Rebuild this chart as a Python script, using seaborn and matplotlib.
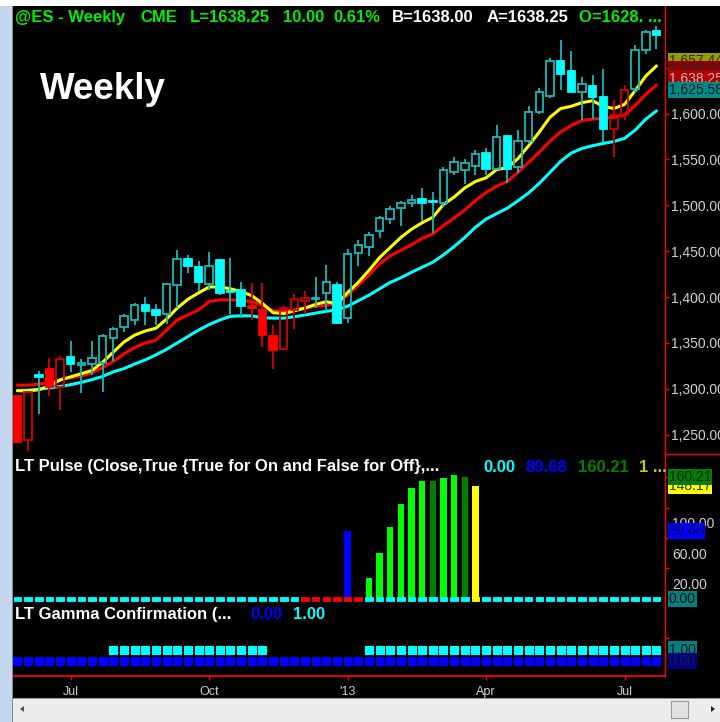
import numpy as np
import pandas as pd
import matplotlib
matplotlib.use("Agg")
import matplotlib.pyplot as plt
import seaborn as sns
from matplotlib.path import Path
from matplotlib.patches import Rectangle, Polygon
from matplotlib.lines import Line2D
from matplotlib.ticker import FuncFormatter

# weekly @ES bars, first bar = early Jun 2012
opens = [1292, 1244, 1315, 1322, 1302, 1335, 1325.5, 1327, 1328, 1355,
         1367, 1375, 1391, 1386, 1381, 1413, 1441, 1433, 1414, 1440,
         1407, 1408, 1390, 1386, 1358, 1343, 1386, 1396, 1398, 1404,
         1413, 1377, 1448.5, 1455, 1472, 1485, 1497, 1502, 1507, 1505,
         1503, 1536, 1538, 1543, 1557, 1540, 1576, 1542, 1570, 1602,
         1619, 1657, 1646, 1623, 1630, 1618, 1583, 1598, 1627, 1669, 1690]
highs = [1293, 1298, 1319, 1334, 1336, 1352, 1333, 1352, 1360, 1367,
         1382, 1393, 1400, 1392, 1415, 1451, 1446, 1439, 1449, 1441,
         1443, 1416, 1415, 1415, 1369, 1390, 1403, 1407, 1422, 1435,
         1416, 1452, 1462, 1471, 1488, 1499, 1505, 1511, 1519, 1515,
         1542, 1553, 1550, 1560, 1562, 1588, 1577, 1582, 1608, 1628,
         1661, 1680, 1668, 1640, 1642, 1649, 1615, 1631, 1675, 1691, 1696]
lows = [1241, 1232, 1272, 1292, 1277, 1318, 1295, 1315, 1297, 1330,
        1362, 1370, 1370, 1370, 1371, 1388, 1426, 1407, 1408, 1402,
        1382, 1377, 1375, 1346, 1322, 1342, 1365, 1382, 1388, 1385,
        1371, 1372, 1434, 1445, 1464, 1480, 1478, 1498, 1483, 1470,
        1498, 1533, 1523, 1533, 1533, 1539, 1524, 1535, 1567, 1600,
        1617, 1626, 1622, 1593, 1594, 1569, 1553, 1593, 1622, 1665, 1670]
closes = [1242, 1297, 1313, 1302, 1332, 1327, 1328, 1334, 1358, 1365,
          1379, 1391, 1385, 1380, 1414, 1441, 1434, 1416, 1434, 1404,
          1406, 1390, 1388, 1359, 1342, 1388, 1398, 1399, 1399, 1416,
          1372, 1447, 1457, 1468, 1486, 1496, 1502, 1506, 1503, 1504,
          1538, 1547, 1546, 1556, 1540, 1575, 1540, 1570, 1602, 1623,
          1657, 1643, 1623, 1632, 1618, 1583, 1598, 1626, 1669, 1689, 1686]
bar_color = list("rrcrr" + "c" * 17 + "r" * 6 + "c" * 28 + "rr" + "ccc")

ma_fast = [1298, 1297.6, 1299, 1303, 1309.6, 1313, 1316.5, 1320, 1329, 1340,
           1351, 1358.5, 1363, 1366, 1376, 1388, 1397.5, 1404.5, 1411, 1411,
           1409, 1406, 1401.5, 1393, 1383, 1382, 1385, 1388, 1392, 1395,
           1392.5, 1405, 1416, 1429, 1443, 1454, 1465, 1474, 1481, 1487,
           1501, 1509, 1519, 1526, 1530, 1539, 1541, 1551, 1565, 1580,
           1596, 1605.5, 1608, 1612, 1614, 1608, 1605.5, 1610, 1625, 1641, 1652]
ma_mid = [1304, 1304, 1305, 1307, 1309.6, 1312, 1314, 1317.5, 1323, 1330,
          1338, 1345, 1350, 1353, 1364, 1375, 1380.5, 1386, 1395, 1397,
          1397, 1396.5, 1395, 1391, 1385, 1385, 1386, 1388, 1390, 1391,
          1393, 1402, 1413, 1424, 1436, 1445, 1451, 1457, 1464, 1469,
          1478, 1486, 1495, 1505, 1514, 1521, 1526, 1536, 1547, 1558,
          1570, 1580, 1587, 1592.5, 1594, 1595, 1596, 1598.5, 1609, 1621, 1631]
ma_slow = [1298, 1298.5, 1299.5, 1301, 1302.5, 1304.5, 1307, 1310, 1313.5, 1318.5,
           1322, 1327, 1331.5, 1337, 1343, 1350, 1357, 1364, 1370, 1375,
           1379, 1379.5, 1379.5, 1377.5, 1377, 1377, 1378.5, 1380.5, 1382.5, 1384.5,
           1386, 1390, 1396, 1402, 1409, 1416, 1421, 1427, 1432.5, 1438,
           1446, 1455, 1465, 1476, 1485, 1491, 1497, 1505, 1513.5, 1524,
           1536, 1548, 1557, 1562, 1565, 1567.5, 1569.5, 1573, 1582, 1594, 1603]

month_ticks = [5, 18, 31, 44, 57]
month_labels = ["Jul", "Oct", "'13", "Apr", "Jul"]

# LT Pulse
pulse_dot = ["c"] * 27 + ["r"] * 6 + ["c"] * 10 + ["y"] + ["c"] * 17
pulse_idx = [31, 33, 34, 35, 36, 37, 38, 39, 40, 41, 42, 43]
pulse_val = [89.68, 28, 60, 94, 125, 146, 155, 155, 159, 162, 160.21, 148.17]
pulse_col = ["#0000ff", "#00ff00", "#00ff00", "#00ff00", "#00ff00", "#00ff00",
             "#00ff00", "#008000", "#00ff00", "#00ff00", "#008000", "#ffff00"]

# LT Gamma
gamma_on = [0] * 9 + [1] * 15 + [0] * 9 + [1] * 28

price_marks = [1657.44, 1648.04, 1638.25, 1625.58]
pulse_marks = [148.17, 160.21, 89.68, 0.00]
gamma_marks = [1.00, 0.00]

df = pd.DataFrame({"bar": np.arange(len(closes)), "open": opens, "high": highs,
                   "low": lows, "close": closes, "col": bar_color,
                   "fast": ma_fast, "mid": ma_mid, "slow": ma_slow,
                   "pdot": pulse_dot, "gamma": gamma_on})

sns.set_theme(style="dark", rc={"axes.facecolor": "black", "figure.facecolor": "black",
                                "savefig.facecolor": "black"})
plt.rcParams["font.family"] = ["Liberation Sans", "DejaVu Sans"]

W, H = 720, 722
def fx(px):
    return px / W
def fy(py):
    return 1 - py / H

fig = plt.figure(figsize=(7.2, 7.22), dpi=100)
L, R = 13, 665
ax1 = fig.add_axes([fx(L), fy(454), (R - L) / W, (454 - 6) / H])
ax2 = fig.add_axes([fx(L), fy(604), (R - L) / W, (604 - 454) / H], sharex=ax1)
ax3 = fig.add_axes([fx(L), fy(676), (R - L) / W, (676 - 604) / H], sharex=ax1)

# candles
up = df["close"] >= df["open"]
top = df[["open", "close"]].max(axis=1)
bot = df[["open", "close"]].min(axis=1)
wick = df["col"].map({"c": "#16b8b8", "r": "#d40000"})
solid = df["col"].map({"c": "#00ffff", "r": "#ff0000"})
ax1.vlines(df["bar"], top, df["high"], colors=wick, lw=1.3, zorder=3)
ax1.vlines(df["bar"], df["low"], bot, colors=wick, lw=1.3, zorder=3)
ax1.bar(df["bar"], np.maximum(top - bot, 0.8), bottom=bot, width=0.7,
        color=np.where(up, "none", solid), edgecolor=np.where(up, wick, solid),
        linewidth=1.3, zorder=4)

# moving averages
sns.lineplot(data=df, x="bar", y="slow", color="#00ffff", lw=2.2, ax=ax1, zorder=2)
sns.lineplot(data=df, x="bar", y="mid", color="#ff0000", lw=2.2, ax=ax1, zorder=2)
sns.lineplot(data=df, x="bar", y="fast", color="#ffff00", lw=2.2, ax=ax1, zorder=2)

# pulse
ax2.bar(pulse_idx, pulse_val, width=0.6, color=pulse_col, edgecolor="none",
        linewidth=0, zorder=3)
flat = Path([(-1, -0.62), (1, -0.62), (1, 0.62), (-1, 0.62), (-1, -0.62)])
pal = {"c": "#00ffff", "r": "#ff0000", "y": "#ffff00"}
sns.scatterplot(data=df, x="bar", y=0, hue="pdot", palette=pal, marker=flat, s=30,
                linewidth=0.6, edgecolor="face", legend=False, ax=ax2, zorder=4)

# gamma
sns.scatterplot(data=df[df["gamma"] == 1], x="bar", y="gamma", color="#00ffff",
                marker="s", s=26, linewidth=0.8, edgecolor="#00ffff", ax=ax3, zorder=3)
sns.scatterplot(data=df, x="bar", y=0, color="#0000ff", marker="s", s=26,
                linewidth=0.8, edgecolor="#0000ff", ax=ax3, zorder=3)

ax1.set_xlim(-0.42, 60.8)
ax1.set_ylim(1228.9, 1717.3)
ax2.set_ylim(-6.6, 190.2)
ax3.set_ylim(-1.3, 4.96)

for ax in (ax1, ax2, ax3):
    ax.set_facecolor("black")
    ax.grid(False)
    ax.set_xlabel("")
    ax.set_ylabel("")
    for s in ax.spines.values():
        s.set_visible(False)
    ax.spines["right"].set_visible(True)
    ax.spines["right"].set_color("red")
    ax.spines["right"].set_linewidth(1)
    ax.yaxis.tick_right()
    ax.tick_params(axis="y", which="both", colors="red", labelcolor="#d0d0d0",
                   length=3, width=1, pad=1, labelsize=10, direction="out")
    ax.tick_params(axis="x", bottom=False, labelbottom=False)

ax1.set_yticks([1250, 1300, 1350, 1400, 1450, 1500, 1550, 1600, 1650])
ax1.yaxis.set_major_formatter(FuncFormatter(lambda v, p: f"{v:,.2f}"))
ax2.set_yticks([20, 60, 100])
ax2.yaxis.set_major_formatter(FuncFormatter(lambda v, p: f"{v:.2f}"))
ax2.tick_params(axis="y", which="major", length=0, pad=5)
ax2.set_yticks([40, 80, 120, 160], minor=True)
ax3.set_yticks([2])
ax3.set_yticklabels([""])

ax3.spines["bottom"].set_visible(True)
ax3.spines["bottom"].set_color("red")
ax3.set_xticks(month_ticks)
ax3.set_xticklabels(month_labels)
ax3.tick_params(axis="x", bottom=True, labelbottom=True, colors="red",
                labelcolor="#d0d0d0", length=3, width=1, pad=4, labelsize=9)

# value boxes on the right axis
def mark(ax, vals, fmt, styles):
    for v, (fc, tc) in zip(vals, styles):
        ax.text(1.0061, v, fmt(v), transform=ax.get_yaxis_transform(), ha="left",
                va="center", fontsize=10, color=tc, clip_on=False, zorder=6,
                bbox=dict(boxstyle="square,pad=0.08", fc=fc, ec="none"))

mark(ax1, price_marks, lambda v: f"{v:,.2f}",
     [("#999900", "#2a2a2a"), ("#8b0000", "#2a2a2a"), ("#b00000", "#bdbdbd"),
      ("#008b8b", "#1a1a1a")])
mark(ax2, pulse_marks, lambda v: f"{v:.2f}",
     [("#ffff00", "#333333"), ("#008000", "#1a1a1a"), ("#0000ff", "#000060"),
      ("#008080", "#111111")])
mark(ax3, gamma_marks, lambda v: f"{v:.2f}",
     [("#008080", "#111111"), ("#000080", "#1a1a40")])

fig.add_artist(Line2D([fx(R), 1], [fy(454), fy(454)], color="red", lw=1))

# header texts
def seg(parts, base, size=12):
    for s, x, c in parts:
        fig.text(fx(x), fy(base), s, color=c, fontsize=size, fontweight="bold",
                 va="baseline", ha="left")

green = "#00ee00"
seg([("@ES - Weekly", 15, green), ("CME", 140, green), ("L=1638.25", 190, green),
     ("10.00", 283, green), ("0.61%", 333, green), ("B=1638.00", 392, "white"),
     ("A=1638.25", 487, "white"), ("O=1628. ...", 579, green)], 22)
seg([("LT Pulse (Close,True {True for On and False for Off},...", 15, "white"),
     ("0.00", 483, "#00ffff"), ("89.68", 526, "#0000ff"), ("160.21", 578, "#008000"),
     ("1 ...", 639, "#c8c800")], 471.5)
seg([("LT Gamma Confirmation (...", 15, "white"), ("0.00", 250, "#0000ff"),
     ("1.00", 293, "#00ffff")], 619.3)
fig.text(fx(40), fy(99), "Weekly", color="white", fontsize=26.5, fontweight="bold",
         va="baseline")

# window chrome
def box(x0, y0, x1, y1, **kw):
    fig.add_artist(Rectangle((fx(x0), fy(y1)), (x1 - x0) / W, (y1 - y0) / H,
                             transform=fig.transFigure, **kw))

box(0, 0, 12, H, fc="#c3d7ee", ec="none")
box(12, 0, 13, H, fc="#8a8a8a", ec="none")
box(0, 0, W, 6, fc="white", ec="none")
box(13, 698, W, H, fc="#ececec", ec="none")
box(13, 698, W, 699, fc="#9a9a9a", ec="none")
box(671, 701, 688, 718, fc="#e2e2e2", ec="#9a9a9a", lw=0.8)
fig.add_artist(Polygon([(fx(20), fy(709)), (fx(24), fy(706)), (fx(24), fy(712))],
                       closed=True, transform=fig.transFigure, fc="#555555", ec="none"))
fig.add_artist(Polygon([(fx(715), fy(709)), (fx(711), fy(706)), (fx(711), fy(712))],
                       closed=True, transform=fig.transFigure, fc="#222222", ec="none"))

fig.savefig("out.png", dpi=100)
